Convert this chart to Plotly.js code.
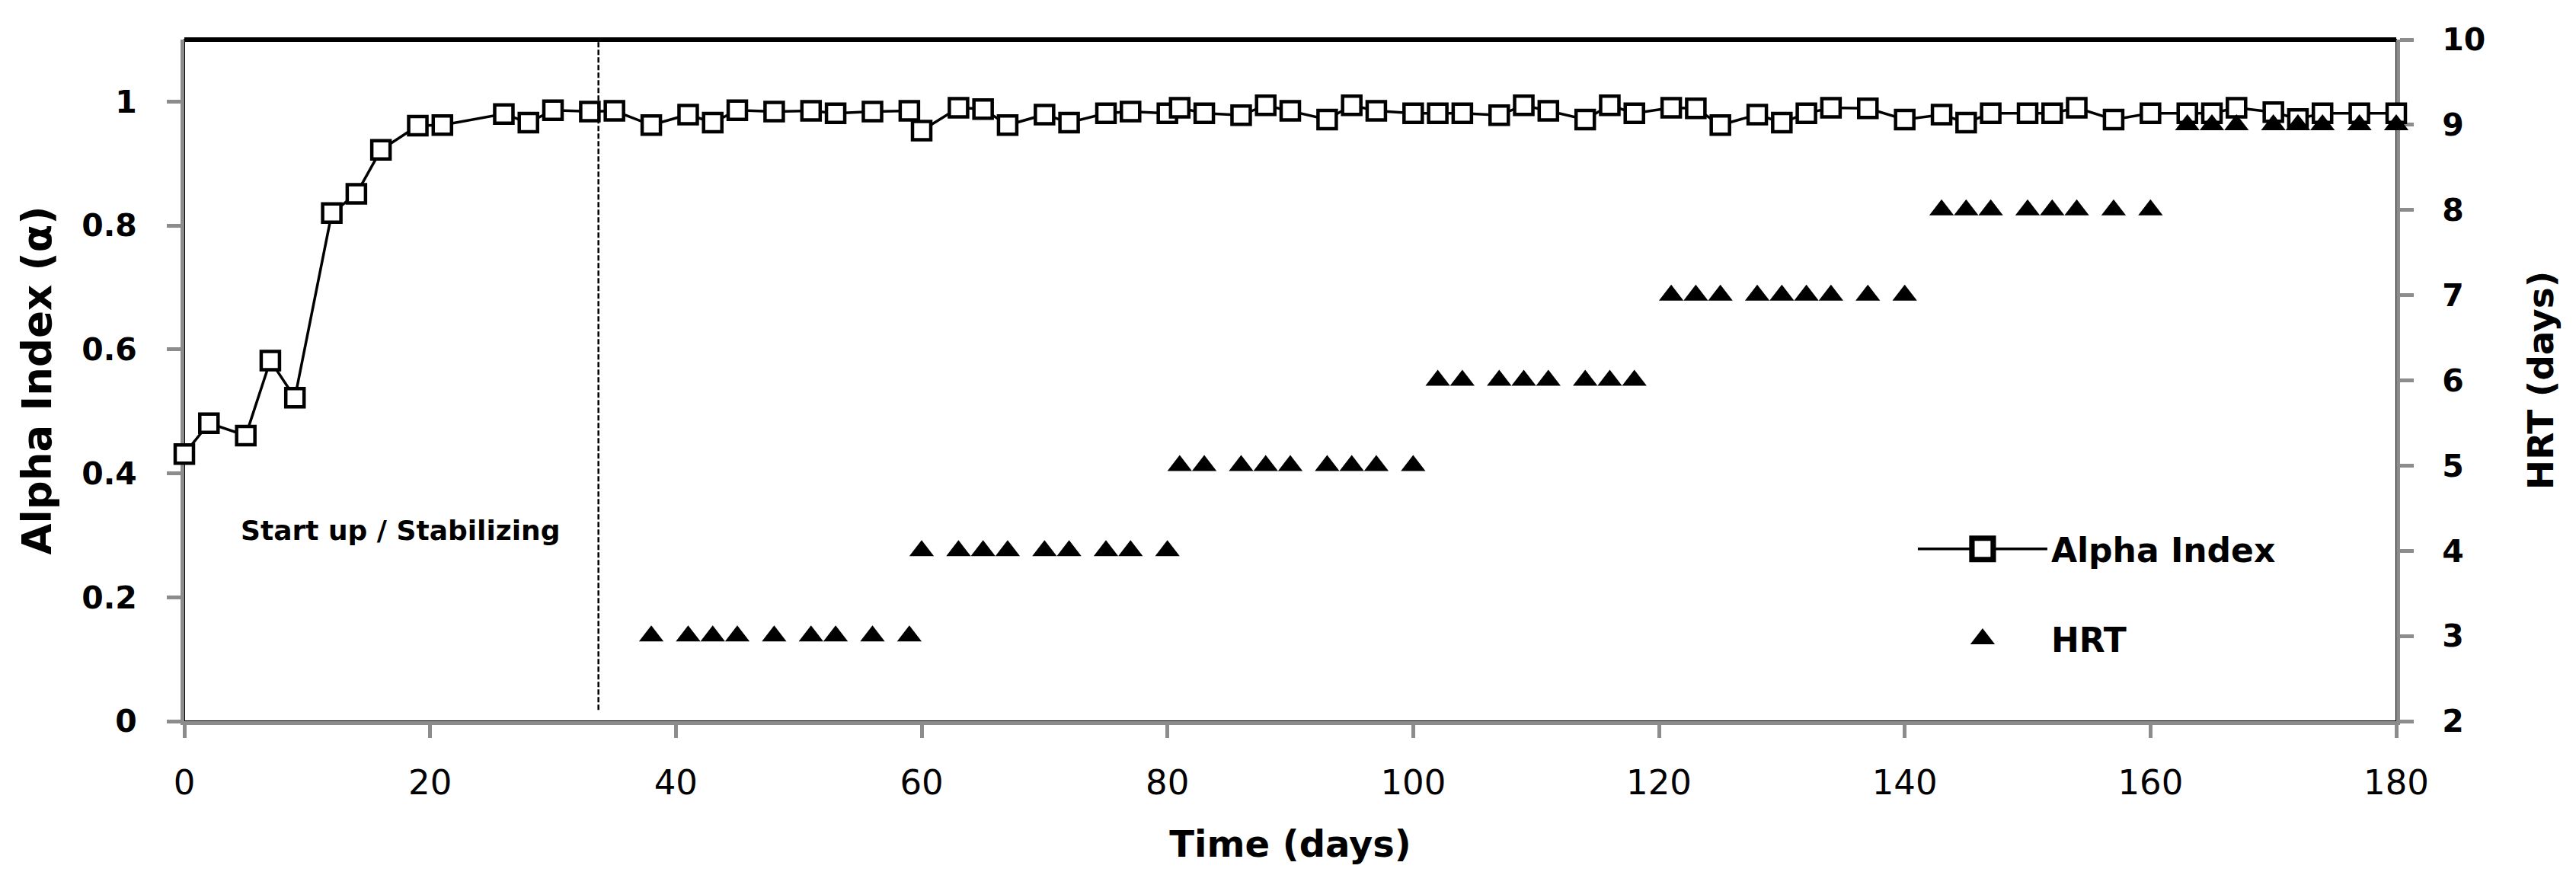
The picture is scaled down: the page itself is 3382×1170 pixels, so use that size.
<!DOCTYPE html>
<html>
<head>
<meta charset="utf-8">
<script src="https://cdn.plot.ly/plotly-3.0.1.min.js"></script>
<style>html,body{margin:0;padding:0;background:#fff;}#chart{width:3382px;height:1170px;}</style>
</head>
<body>
<div id="chart"></div>
<script>
// Alpha index series
var alphaDays = [0,2,5,7,9,12,14,16,19,21,26,28,30,33,35,38,41,43,45,48,51,53,56,59,60,63,65,67,70,72,75,77,80,81,83,86,88,90,93,95,97,100,102,104,107,109,111,114,116,118,121,123,125,128,130,132,134,137,140,143,145,147,150,152,154,157,160,163,165,167,170,172,174,177,180];
var alphaValues = [0.431,0.481,0.461,0.582,0.522,0.820,0.851,0.922,0.961,0.962,0.980,0.966,0.986,0.984,0.985,0.962,0.979,0.966,0.986,0.984,0.985,0.981,0.984,0.985,0.953,0.990,0.988,0.962,0.979,0.966,0.981,0.984,0.981,0.990,0.981,0.978,0.994,0.985,0.971,0.994,0.985,0.981,0.981,0.981,0.978,0.994,0.985,0.971,0.994,0.981,0.990,0.989,0.962,0.979,0.966,0.981,0.990,0.989,0.971,0.979,0.966,0.981,0.981,0.981,0.990,0.971,0.981,0.981,0.981,0.990,0.983,0.972,0.981,0.981,0.981];
// HRT series
var hrtDays = [38,41,43,45,48,51,53,56,59, 60,63,65,67,70,72,75,77,80, 81,83,86,88,90,93,95,97,100, 102,104,107,109,111,114,116,118, 121,123,125,128,130,132,134,137,140, 143,145,147,150,152,154,157,160, 163,165,167,170,172,174,177,180];
var hrtValues = [3,3,3,3,3,3,3,3,3, 4,4,4,4,4,4,4,4,4, 5,5,5,5,5,5,5,5,5, 6,6,6,6,6,6,6,6, 7,7,7,7,7,7,7,7,7, 8,8,8,8,8,8,8,8, 9,9,9,9,9,9,9,9];
// Axis ticks
var xTicks = [0,20,40,60,80,100,120,140,160,180];
var yTicks = [0,0.2,0.4,0.6,0.8,1];
var yTickText = ['0','0.2','0.4','0.6','0.8','1'];
var y2Ticks = [2,3,4,5,6,7,8,9,10];
var phaseBoundary = 33.7;
var phaseLabel = 'Start up / Stabilizing';

var FONT = 'DejaVu Sans, sans-serif';
var GRAY = '#8c8c8c';

var traces = [
  {
    x: alphaDays, y: alphaValues, name: 'Alpha Index', type: 'scatter', mode: 'lines+markers',
    line: {color: '#000', width: 3.5},
    marker: {symbol: 'square', size: 24, color: '#fff', line: {color: '#000', width: 4.5}},
    xaxis: 'x', yaxis: 'y', legendgroup: 'a', cliponaxis: false
  },
  {
    x: hrtDays, y: hrtValues, name: 'HRT', type: 'scatter', mode: 'markers',
    marker: {symbol: 'triangle-up', size: 28, color: '#000', line: {width: 0}},
    xaxis: 'x', yaxis: 'y2', legendgroup: 'b', cliponaxis: false
  }
];

var layout = {
  width: 3382, height: 1170,
  margin: {l: 242, r: 236, t: 52, b: 223, pad: 0},
  paper_bgcolor: '#fff', plot_bgcolor: '#fff',
  font: {family: FONT, color: '#000'},
  showlegend: true,
  legend: {
    x: 0.782, y: 0.292, xanchor: 'left', yanchor: 'top',
    font: {family: FONT, size: 44, color: '#000', weight: 'bold'},
    bgcolor: 'rgba(0,0,0,0)', borderwidth: 0,
    traceorder: 'grouped', tracegroupgap: 58, itemwidth: 170, itemsizing: 'trace'
  },
  xaxis: {
    range: [0, 180], tickvals: xTicks, ticks: 'outside', ticklen: 17, tickwidth: 5, tickcolor: GRAY,
    showline: true, linecolor: GRAY, linewidth: 5, showgrid: false, zeroline: false, layer: 'below traces',
    ticklabelstandoff: 20,
    tickfont: {family: FONT, size: 45, color: '#000'},
    title: {text: 'Time (days)', font: {family: FONT, size: 48, color: '#000', weight: 'bold'}, standoff: 40}
  },
  yaxis: {
    range: [0, 1.1], tickvals: yTicks, ticktext: yTickText, ticks: 'outside', ticklen: 18, tickwidth: 5, tickcolor: GRAY,
    showline: true, linecolor: GRAY, linewidth: 5, showgrid: false, zeroline: false, layer: 'below traces',
    ticklabelstandoff: 31,
    tickfont: {family: FONT, size: 41, color: '#000', weight: 'bold'},
    title: {text: 'Alpha Index (α)', font: {family: FONT, size: 53, color: '#000', weight: 'bold'}, standoff: 24}
  },
  yaxis2: {
    range: [2, 10], tickvals: y2Ticks, ticks: 'outside', ticklen: 18, tickwidth: 5, tickcolor: GRAY,
    overlaying: 'y', side: 'right', anchor: 'x', ticklabelstandoff: 29, layer: 'below traces',
    showline: true, linecolor: GRAY, linewidth: 5, showgrid: false, zeroline: false,
    tickfont: {family: FONT, size: 41, color: '#000', weight: 'bold'},
    title: {text: 'HRT (days)', font: {family: FONT, size: 47, color: '#000', weight: 'bold'}, standoff: 58}
  },
  shapes: [
    {type: 'rect', xref: 'paper', yref: 'paper', x0: 0, x1: 1, y0: 0, y1: 1, line: {color: '#000', width: 2}, layer: 'below'},
    {type: 'line', xref: 'paper', yref: 'paper', x0: 0, x1: 1, y0: 1, y1: 1, line: {color: '#000', width: 6}},
    {type: 'line', xref: 'x', yref: 'y', x0: phaseBoundary, x1: phaseBoundary, y0: 0.018, y1: 1.1, line: {color: '#000', width: 2.5, dash: '7px,3px'}}
  ],
  annotations: [
    {xref: 'x', yref: 'y', x: 17.6, y: 0.308, text: phaseLabel, showarrow: false,
     font: {family: FONT, size: 36, color: '#000', weight: 'bold'}}
  ]
};

Plotly.newPlot('chart', traces, layout, {displayModeBar: false, staticPlot: true}).then(function (gd) {
  // enlarge legend symbols to match the plotted marker size
  gd.querySelectorAll('.legend .legendpoints path.scatterpts').forEach(function (p) {
    var t = p.getAttribute('transform') || '';
    p.setAttribute('transform', t + ' scale(1.75)');
    var sw = parseFloat(p.style.strokeWidth || '0');
    if (sw) p.style.strokeWidth = (sw / 1.75 * 1.6) + 'px';
  });
});
</script>
</body>
</html>
